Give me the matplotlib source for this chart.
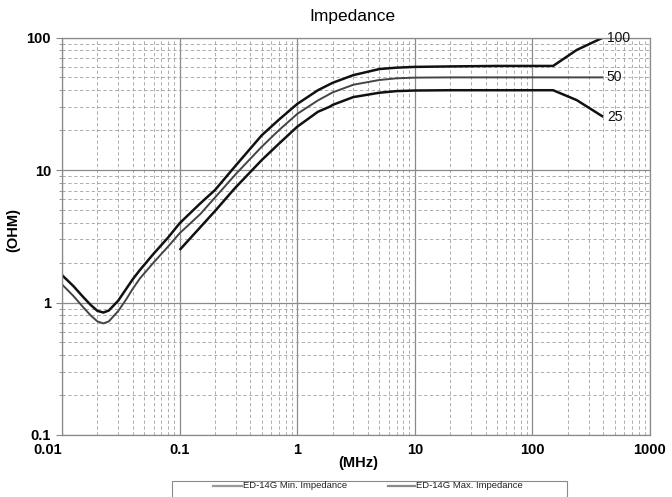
import matplotlib
matplotlib.use("Agg")
import matplotlib.pyplot as plt
from matplotlib.patches import Rectangle
from matplotlib.lines import Line2D
from matplotlib.ticker import LogLocator, FixedLocator, NullFormatter

# ---------------- data ----------------
freq_100 = [0.01, 0.0125, 0.015, 0.0175, 0.02, 0.0225, 0.025, 0.03, 0.035, 0.04, 0.046,
            0.06, 0.08, 0.1, 0.15, 0.2, 0.3, 0.5, 0.7, 1, 1.5, 2, 3, 5, 7, 10, 20, 50,
            150, 238, 400]
z_100 = [1.61, 1.33, 1.11, 0.96, 0.865, 0.84, 0.87, 1.03, 1.26, 1.5, 1.76,
         2.33, 3.1, 3.96, 5.6, 7.06, 10.8, 18.3, 24, 31.5, 40, 45.5, 52, 57.8, 59.2, 60, 60.5, 61,
         61, 80.5, 100]

freq_50 = [0.01, 0.0125, 0.015, 0.0175, 0.02, 0.0225, 0.025, 0.03, 0.035, 0.04, 0.046,
           0.06, 0.08, 0.1, 0.15, 0.2, 0.3, 0.5, 0.7, 1, 1.5, 2, 3, 5, 7, 10, 20, 50,
           150, 400]
z_50 = [1.37, 1.12, 0.93, 0.80, 0.72, 0.695, 0.72, 0.86, 1.05, 1.27, 1.52,
        2.0, 2.65, 3.33, 4.65, 6.2, 9.3, 15, 20, 26.5, 33.5, 38.5, 44, 47.8, 49.2, 49.8, 50, 50,
        50, 50]

freq_25 = [0.1, 0.15, 0.2, 0.286, 0.3, 0.5, 0.7, 1, 1.5, 1.9, 2, 3, 5, 7, 10, 20, 50,
           150, 238, 400]
z_25 = [2.49, 3.7, 4.9, 7.06, 7.4, 11.9, 15.8, 21.2, 27.5, 30.1, 31, 35.5, 38.3, 39.4,
        39.8, 40, 40, 40, 33.7, 25.2]

curve_labels = ["100", "50", "25"]
curve_label_y = [100, 50, 25]
x_ticklabels = ["0.01", "0.1", "1", "10", "100", "1000"]
y_ticklabels = ["0.1", "1", "10", "100"]
legend_labels = ["ED-14G Min. Impedance", "ED-14G Max. Impedance"]

# ---------------- figure ----------------
W, H = 672, 497
fig = plt.figure(figsize=(W / 100, H / 100), dpi=100)
L, R, T, B = 62, 650, 37.5, 435
ax = fig.add_axes([L / W, 1 - B / H, (R - L) / W, (B - T) / H])
ax.set_xscale("log")
ax.set_yscale("log")
ax.set_xlim(0.01, 1000)
ax.set_ylim(0.1, 100)

FONT = "Liberation Sans"

ax.plot(freq_100, z_100, color="#111111", lw=1.8, solid_capstyle="butt")
ax.plot(freq_50, z_50, color="#444444", lw=1.4, solid_capstyle="butt")
ax.plot(freq_25, z_25, color="#111111", lw=1.8, solid_capstyle="butt")

for lab, yv in zip(curve_labels, curve_label_y):
    ax.text(430, yv, lab, ha="left", va="center", fontsize=10, family=FONT,
            color="#111111", clip_on=False)

# grid
ax.xaxis.set_major_locator(FixedLocator([0.01, 0.1, 1, 10, 100, 1000]))
ax.yaxis.set_major_locator(FixedLocator([0.1, 1, 10, 100]))
ax.xaxis.set_minor_locator(LogLocator(base=10, subs=range(2, 10), numticks=20))
ax.yaxis.set_minor_locator(LogLocator(base=10, subs=range(2, 10), numticks=20))
ax.xaxis.set_minor_formatter(NullFormatter())
ax.yaxis.set_minor_formatter(NullFormatter())
ax.grid(which="major", color="#8a8a8a", lw=0.9, ls="-")
ax.grid(which="minor", color="#a0a0a0", lw=0.6, ls=(0, (4, 3)))
ax.set_axisbelow(True)
for s in ax.spines.values():
    s.set_color("#8a8a8a")
    s.set_linewidth(0.9)

ax.set_xticklabels(x_ticklabels)
ax.set_yticklabels(y_ticklabels)
ax.tick_params(axis="x", which="both", length=0, pad=6)
ax.tick_params(axis="y", which="major", length=4, color="#8a8a8a", pad=4)
ax.tick_params(axis="y", which="minor", length=2, color="#8a8a8a")
for t in ax.get_xticklabels() + ax.get_yticklabels():
    t.set_fontfamily(FONT)
    t.set_fontweight("bold")
    t.set_fontsize(10.5)
ax.get_xticklabels()[0].set_horizontalalignment("right")

# texts
fig.text(352 / W, 1 - 17 / H, "Impedance", ha="center", va="center",
         fontsize=12.5, family=FONT)
fig.text(358 / W, 1 - 463 / H, "(MHz)", ha="center", va="center",
         fontsize=10.5, family=FONT, fontweight="bold")
fig.text(13 / W, 1 - 230 / H, "(OHM)", ha="center", va="center", rotation=90,
         fontsize=10.5, family=FONT, fontweight="bold")

# legend box (partly cut off at the bottom, as in the reference)
def fx(px):
    return px / W

def fy(py):
    return 1 - py / H

fig.patches.append(Rectangle((fx(172), fy(506)), fx(567) - fx(172), fy(481) - fy(506),
                             transform=fig.transFigure, fill=False,
                             edgecolor="#8a8a8a", lw=0.8))
for (x0, x1, tx), lab, col in zip([(213, 242, 243), (388, 415, 416)], legend_labels,
                                  ["#9a9a9a", "#8a8a8a"]):
    fig.lines.append(Line2D([fx(x0), fx(x1)], [fy(486), fy(486)], transform=fig.transFigure,
                            color=col, lw=1.6))
    fig.text(fx(tx), fy(486), lab, ha="left", va="center", fontsize=6.8, family=FONT,
             color="#222222")

fig.savefig("out.png", dpi=100)
